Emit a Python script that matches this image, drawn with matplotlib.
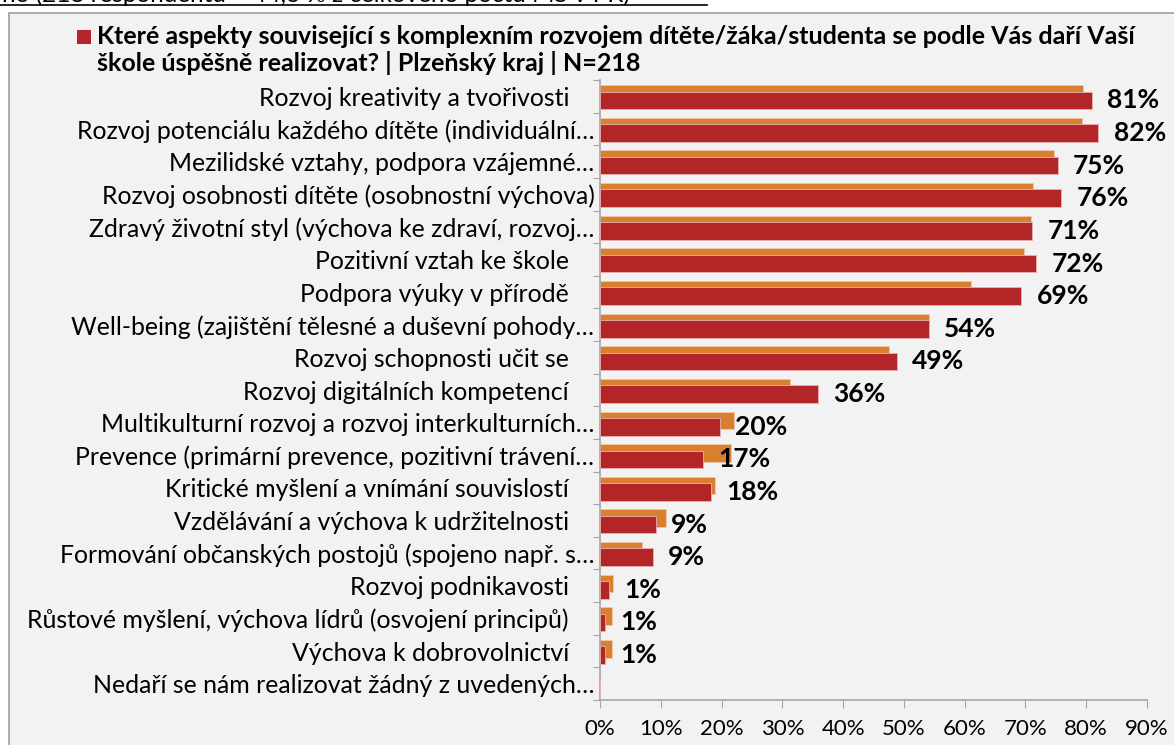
import numpy as np
import matplotlib
matplotlib.use("Agg")
import matplotlib.pyplot as plt
from matplotlib.patches import Rectangle
from matplotlib.lines import Line2D

# ---------- Data (top to bottom as shown) ----------
categories = [
    "Rozvoj kreativity a tvořivosti",
    "Rozvoj potenciálu každého dítěte (individuální…",
    "Mezilidské vztahy, podpora vzájemné…",
    "Rozvoj osobnosti dítěte (osobnostní výchova)",
    "Zdravý životní styl (výchova ke zdraví, rozvoj…",
    "Pozitivní vztah ke škole",
    "Podpora výuky v přírodě",
    "Well-being (zajištění tělesné a duševní pohody…",
    "Rozvoj schopnosti učit se",
    "Rozvoj digitálních kompetencí",
    "Multikulturní rozvoj a rozvoj interkulturních…",
    "Prevence (primární prevence, pozitivní trávení…",
    "Kritické myšlení a vnímání souvislostí",
    "Vzdělávání a výchova k udržitelnosti",
    "Formování občanských postojů (spojeno např. s…",
    "Rozvoj podnikavosti",
    "Růstové myšlení, výchova lídrů (osvojení principů)",
    "Výchova k dobrovolnictví",
    "Nedaří se nám realizovat žádný z uvedených…",
]
# labels that carry a trailing blank in the source
trailing = [1, 0, 0, 0, 0, 1, 1, 0, 1, 1, 0, 0, 1, 1, 0, 1, 1, 1, 0]

# Plzeňský kraj (red, labelled)
region_vals = [80.9, 82.0, 75.3, 75.9, 71.1, 71.8, 69.3, 54.1, 48.8, 35.8,
               19.7, 17.0, 18.3, 9.2, 8.7, 1.4, 0.8, 0.8, 0.0]
region_labels = ["81%", "82%", "75%", "76%", "71%", "72%", "69%", "54%", "49%", "36%",
                 "20%", "17%", "18%", "9%", "9%", "1%", "1%", "1%", ""]

# comparison series (orange)
compare_vals = [79.4, 79.3, 74.7, 71.2, 70.9, 69.8, 61.1, 54.1, 47.5, 31.2,
                22.0, 21.5, 18.9, 10.9, 6.9, 2.2, 2.0, 2.0, 0.0]

xticks = [0, 10, 20, 30, 40, 50, 60, 70, 80, 90]

RED = "#B22628"
ORANGE = "#D97F30"
BG = "#F2F2F2"
GREY = "#A6A6A6"
FS = 17.9
PAD = "\u00a0" * 4

plt.rcParams["font.family"] = ["Lato", "DejaVu Sans"]

W, H = 1174, 745
fig = plt.figure(figsize=(W / 100, H / 100), dpi=100, facecolor="white")

# chart panel
fig.patches.append(Rectangle((9 / W, -0.02), 1.0, 1 - 13 / H + 0.02,
                             transform=fig.transFigure, facecolor=BG,
                             edgecolor=GREY, linewidth=1.3, zorder=-5))

# clipped line of text above the panel
fig.text(0.002, 1 - 1.5 / H, "ho (218 respondentů – 44,3 % z celkového počtu MŠ v PK)",
         fontsize=17.5, ha="left", va="baseline", color="black")
fig.add_artist(Line2D([0, 707 / W], [1 - 5 / H, 1 - 5 / H],
                      transform=fig.transFigure, color="black", linewidth=1.2))

# title with square legend marker
fig.patches.append(Rectangle((77 / W, 1 - 44 / H), 14 / W, 14 / H,
                             transform=fig.transFigure, facecolor=RED,
                             edgecolor="none", zorder=2))
fig.text(97 / W, 1 - 37 / H,
         "Které aspekty související s komplexním rozvojem dítěte/žáka/studenta se podle Vás daří Vaší",
         fontsize=18, fontweight="bold", ha="left", va="center")
fig.text(97 / W, 1 - 63 / H, "škole úspěšně realizovat? | Plzeňský kraj | N=218",
         fontsize=18, fontweight="bold", ha="left", va="center")

ax = fig.add_axes([600 / W, 1 - 700 / H, 547 / W, 620 / H])
ax.set_facecolor("none")
ax.set_zorder(1)

y = np.arange(len(categories))
bar_h = 0.54
ax.barh(y - 0.07, compare_vals, height=bar_h, color=ORANGE,
        edgecolor="#F0C8A8", linewidth=0.6, zorder=2)
ax.barh(y + 0.125, region_vals, height=bar_h, color=RED,
        edgecolor="#E8B0B0", linewidth=0.6, zorder=3)

for yi, v, lab in zip(y, region_vals, region_labels):
    if lab:
        ax.annotate(lab, (v, yi + 0.125), xytext=(11, 0), textcoords="offset points",
                    ha="left", va="center", fontsize=19, fontweight="bold", zorder=4)

ax.set_xlim(0, 90)
ax.set_ylim(len(categories) - 0.5, -0.5)

ax.set_xticks(xticks)
ax.set_xticklabels([f"{t}%" for t in xticks], fontsize=16)
ax.tick_params(axis="x", length=6, color=GREY, pad=8)

# category boundary ticks + centred labels
ax.set_yticks(np.arange(len(categories) + 1) - 0.5)
ax.set_yticklabels([])
ax.tick_params(axis="y", which="major", length=5, color=GREY)
ax.set_yticks(y, minor=True)
ax.set_yticklabels([c + PAD * n for c, n in zip(categories, trailing)],
                   minor=True, fontsize=FS)
ax.tick_params(axis="y", which="minor", length=0, pad=4)

for s in ["top", "right"]:
    ax.spines[s].set_visible(False)
for s in ["left", "bottom"]:
    ax.spines[s].set_color(GREY)
    ax.spines[s].set_linewidth(1.2)

plt.savefig("out.png", dpi=100, facecolor="white")
